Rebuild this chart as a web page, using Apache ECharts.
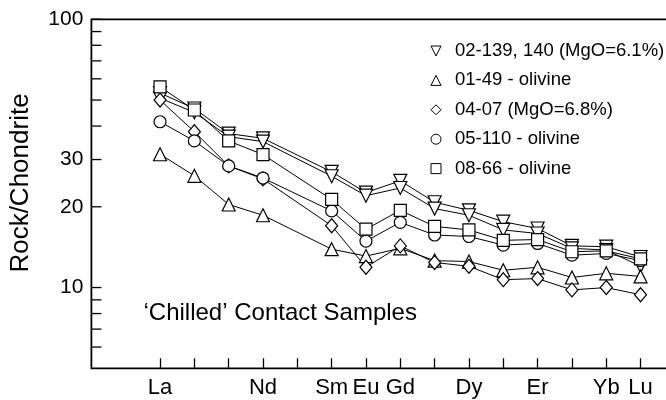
<!DOCTYPE html>
<html><head><meta charset="utf-8">
<script src="https://cdn.jsdelivr.net/npm/echarts@6/dist/echarts.min.js"></script>
<style>html,body{margin:0;padding:0;background:#fff}#c{width:666px;height:400px}</style>
</head><body><div id="c"></div>
<script>
// REE categories (Pm has no data)
const categories = ['La','Ce','Pr','Nd','Pm','Sm','Eu','Gd','Tb','Dy','Ho','Er','Tm','Yb','Lu'];
const shownLabels = ['La','Nd','Sm','Eu','Gd','Dy','Er','Yb','Lu'];
const yTickValues = [6,7,8,9,10,20,30,40,50,60,70,80,90,100];
const yTickLabels = [10,20,30,100];

const s02_139 = [53.1,46.5,37.5,36.0,null,27.0,22.6,25.0,20.8,19.4,17.6,16.6,14.3,14.2,13.0];
const s02_140 = [50.8,45.0,36.5,35.0,null,26.0,22.0,23.5,19.7,18.6,16.4,15.9,14.0,13.8,12.0];
const s01_49  = [31.4,26.1,20.4,18.6,null,13.9,13.1,14.0,12.6,12.5,11.6,11.9,10.9,11.3,11.0];
const s04_07  = [50.0,38.1,28.4,25.4,null,17.0,11.9,14.3,12.4,12.0,10.7,10.8,9.8,10.0,9.4];
const s05_110 = [41.5,35.2,28.4,25.6,null,19.3,14.9,17.5,15.7,15.5,14.4,14.6,13.2,13.4,12.6];
const s08_66  = [56.0,45.9,35.2,31.3,null,21.3,16.5,19.4,16.9,16.4,15.0,15.1,13.6,13.7,12.8];

const names = ['02-139, 140 (MgO=6.1%)','01-49 - olivine','04-07 (MgO=6.8%)','05-110 - olivine','08-66 - olivine'];

const FONT = 'Liberation Sans, Arial, Helvetica, sans-serif';
const axisCats = ['p0','p1'].concat(categories, ['p2','p3']);
const downTri = 'path://M0,0 L10,0 L5,10 Z';

function mk(name, vals, symbol, size, rotate) {
  return {
    type: 'line', name: name,
    data: categories.map((c, i) => [c, vals[i]]).filter(d => d[1] !== null),
    symbol: symbol, symbolSize: size, symbolRotate: rotate || 0,
    showSymbol: true, animation: false,
    lineStyle: { color: '#000', width: 1 },
    itemStyle: { color: '#fff', borderColor: '#000', borderWidth: 1.2 },
    emphasis: { disabled: true }
  };
}

const chart = echarts.init(document.getElementById('c'), null, { renderer: 'canvas' });
const option = {
  animation: false,
  backgroundColor: '#fff',
  textStyle: { fontFamily: FONT },
  grid: { left: 91.4, top: 19.3, bottom: 31.7, width: 617.8, outerBoundsMode: 'none', containLabel: false,
    show: true, borderColor: '#000', borderWidth: 1.8, backgroundColor: 'transparent' },
  legend: {
    orient: 'vertical', left: 430.5, top: 41.5, padding: 0,
    itemWidth: 10, itemHeight: 10, itemGap: 10.4,
    textStyle: { fontSize: 18.5, color: '#000', fontFamily: FONT, lineHeight: 18.5, padding: [0, 0, 0, 9] },
    itemStyle: { color: '#fff', borderColor: '#000', borderWidth: 1 },
    selectedMode: false,
    data: [
      { name: names[0], icon: downTri },
      { name: names[1], icon: 'triangle' },
      { name: names[2], icon: 'diamond' },
      { name: names[3], icon: 'circle' },
      { name: names[4], icon: 'rect' }
    ]
  },
  xAxis: {
    type: 'category', data: axisCats, boundaryGap: false,
    axisLine: { show: false },
    axisTick: { show: true, inside: true, length: 10, lineStyle: { color: '#000', width: 1.3 },
      interval: (i, v) => categories.indexOf(v) >= 0 },
    axisLabel: { show: true, fontSize: 22, color: '#000', fontFamily: FONT, margin: 9,
      interval: (i, v) => shownLabels.indexOf(v) >= 0 },
    splitLine: { show: false }
  },
  yAxis: {
    type: 'log', logBase: 10, min: 5, max: 100,
    axisLine: { show: false }, axisTick: { show: false }, axisLabel: { show: false },
    splitLine: { show: false }, minorTick: { show: false }
  },
  series: [
    mk(names[0], s02_139, 'triangle', [13, 13], 180),
    mk(names[0], s02_140, 'triangle', [13, 13], 180),
    mk(names[1], s01_49, 'triangle', [13, 13]),
    mk(names[2], s04_07, 'diamond', [12, 14]),
    mk(names[3], s05_110, 'circle', 12),
    mk(names[4], s08_66, 'rect', 12)
  ]
};
chart.setOption(option);

const g = [];
const x0 = chart.convertToPixel({ xAxisIndex: 0 }, 'p0');
yTickValues.forEach(v => {
  const y = chart.convertToPixel({ yAxisIndex: 0 }, v);
  g.push({ type: 'line', silent: true, shape: { x1: x0, y1: y, x2: x0 + 10, y2: y }, style: { stroke: '#000', lineWidth: 1.3 } });
});
yTickLabels.forEach(v => {
  const y = chart.convertToPixel({ yAxisIndex: 0 }, v);
  g.push({ type: 'text', silent: true, x: x0 - 8, y: y, style: { text: String(v), font: '21px ' + FONT, fill: '#000', textAlign: 'right', textVerticalAlign: 'middle' } });
});
g.push({ type: 'text', silent: true, x: 20.5, y: 183, rotation: Math.PI / 2,
  style: { text: 'Rock/Chondrite', font: '26px ' + FONT, fill: '#000', textAlign: 'center', textVerticalAlign: 'middle' } });
g.push({ type: 'text', silent: true, x: 143.5, y: 313,
  style: { text: '\u2018Chilled\u2019 Contact Samples', font: '24px ' + FONT, fill: '#000', textAlign: 'left', textVerticalAlign: 'middle' } });
chart.setOption({ graphic: g });
</script>
</body></html>
